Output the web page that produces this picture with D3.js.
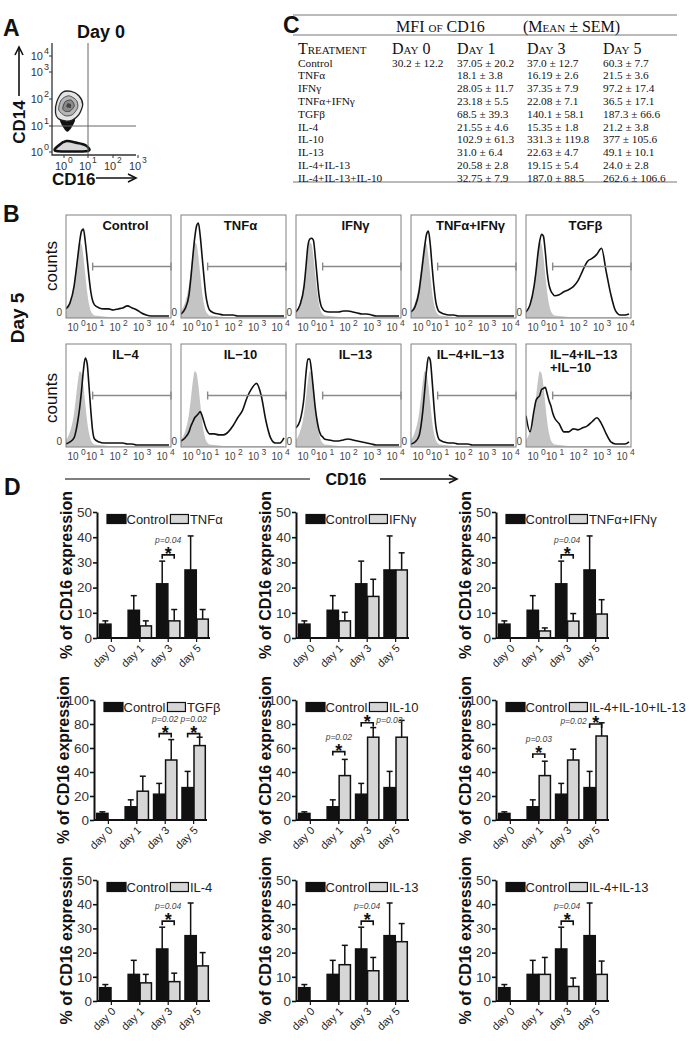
<!DOCTYPE html>
<html><head><meta charset="utf-8">
<script src="https://cdn.jsdelivr.net/npm/d3@7"></script>
<style>body{margin:0;background:#fff}svg{display:block}</style>
</head><body>
<svg id="c" width="689" height="1048"></svg>
<script>
// ---------------- DATA ----------------
// Panel C table
const tableDays = ["Day 0","Day 1","Day 3","Day 5"];
const tableTreatments = ["Control","TNFα","IFNγ","TNFα+IFNγ","TGFβ","IL-4","IL-10","IL-13","IL-4+IL-13","IL-4+IL-13+IL-10"];
const tableDay0 = ["30.2 ± 12.2","","","","","","","","",""];
const tableDay1 = ["37.05 ± 20.2","18.1 ± 3.8","28.05 ± 11.7","23.18 ± 5.5","68.5 ± 39.3","21.55 ± 4.6","102.9 ± 61.3","31.0 ± 6.4","20.58 ± 2.8","32.75 ± 7.9"];
const tableDay3 = ["37.0 ± 12.7","16.19 ± 2.6","37.35 ± 7.9","22.08 ± 7.1","140.1 ± 58.1","15.35 ± 1.8","331.3 ± 119.8","22.63 ± 4.7","19.15 ± 5.4","187.0 ± 88.5"];
const tableDay5 = ["60.3 ± 7.7","21.5 ± 3.6","97.2 ± 17.4","36.5 ± 17.1","187.3 ± 66.6","21.2 ± 3.8","377 ± 105.6","49.1 ± 10.1","24.0 ± 2.8","262.6 ± 106.6"];

// Panel A contour rings (log10 decades: [CD16, CD14])
const contourOuter = [[-0.32,1.5],[-0.27,1.9],[-0.05,2.25],[0.3,2.28],[0.62,2.12],[0.78,1.8],[0.62,1.42],[0.35,1.22],[0.1,1.18],[-0.22,1.28]];
const contourMid = [[-0.2,1.6],[-0.1,1.97],[0.2,2.12],[0.52,1.95],[0.57,1.68],[0.35,1.42],[0.05,1.38]];
const contourInner = [[-0.05,1.65],[0.05,1.9],[0.3,1.96],[0.43,1.75],[0.25,1.55],[0.05,1.55]];
const contourCore = [[0.1,1.7],[0.15,1.84],[0.29,1.8],[0.27,1.67]];
const contourTail = [[-0.15,1.27],[0.45,1.27],[0.32,0.95],[0.15,0.78],[0.0,0.9]];
const contourLow = [[-0.3,0.04],[-0.2,0.25],[0.1,0.42],[0.5,0.36],[0.9,0.26],[1.0,0.04]];

// Panel B histograms (x in log10 decades, counts in % of max)
const histX = [-0.5,-0.3,-0.1,0,0.1,0.2,0.3,0.4,0.5,0.6,0.7,0.8,0.9,1.0,1.2,1.4,1.6,1.8,2.0,2.2,2.4,2.6,2.8,3.0,3.2,3.4,3.6,3.8,4.0,4.2];
const histIsotype = [6,14,32,48,64,74,72,60,42,25,13,6,3,1.5,1,0.5,0,0,0,0,0,0,0,0,0,0,0,0,0,0];
const histControl = [8,14,30,45,60,75,85,87,75,58,40,25,16,12,9,8,8,7,8,9,11,9,7,4,2,1,1,1,1,1];
const histTNFa = [3,8,22,40,60,78,90,93,80,60,40,22,12,7,4,3,2,2,2,1,1,1,1,1,1,1,1,1,1,1];
const histIFNg = [5,12,30,50,70,77,78,76,60,40,22,12,8,6,5,5,5,6,6,5,4,3,3,2,1,1,1,1,1,1];
const histTNFaIFNg = [5,10,25,40,55,70,82,85,72,50,30,15,8,5,3,2,2,1,1,1,1,1,1,1,1,1,1,1,1,1];
const histTGFb = [5,12,30,45,62,75,82,80,65,45,32,26,23,21,22,25,27,30,36,46,55,58,62,68,45,22,6,2,2,3];
const histIL4 = [2,4,8,15,25,38,55,75,87,82,60,35,15,7,4,3,3,3,3,3,2,2,1,1,1,1,1,1,1,1];
const histIL10 = [5,8,14,20,24,28,30,32,34,30,24,18,14,12,12,11,11,14,20,28,35,48,57,62,50,25,8,3,3,8];
const histIL13 = [18,25,48,72,86,86,74,56,38,25,16,11,9,7,6,5,5,6,7,6,5,4,3,2,1,1,1,1,1,1];
const histIL4IL13 = [2,4,10,20,35,55,75,88,85,65,40,20,10,6,4,3,3,2,2,2,1,1,1,1,1,1,1,1,1,1];
const histIL4IL13IL10 = [30,14,35,45,48,50,56,57,58,52,45,40,33,28,22,14,14,17,16,18,20,24,28,22,12,4,2,2,2,4];
const histTitles = ["Control","TNFα","IFNγ","TNFα+IFNγ","TGFβ","IL−4","IL−10","IL−13","IL−4+IL−13",["IL−4+IL−13","+IL−10"]];
const histTickLabels = ["0","1","2","3","4"];

// Panel D bar charts
const barDays = ["day 0","day 1","day 3","day 5"];
const controlMean = [5.5, 11, 21.5, 27];
const controlSEM = [1.3, 5.8, 9, 13.5];
const treatNames = ["TNFα","IFNγ","TNFα+IFNγ","TGFβ","IL-10","IL-4+IL-10+IL-13","IL-4","IL-13","IL-4+IL-13"];
const treatMean = [
  [null, 4.8, 6.8, 7.5],
  [null, 6.8, 16.5, 27],
  [null, 2.8, 6.7, 9.5],
  [null, 24, 50, 62],
  [null, 37, 69, 69],
  [null, 37, 50, 70],
  [null, 7.5, 8, 14.5],
  [null, 15, 12.5, 24.5],
  [null, 11, 6, 11]];
const treatSEM = [
  [null, 2, 4.5, 3.8],
  [null, 3.4, 6.8, 6.8],
  [null, 1.2, 3, 5.7],
  [null, 12.5, 17, 7],
  [null, 13.5, 8, 14],
  [null, 12, 9, 11],
  [null, 3.5, 3.5, 5.5],
  [null, 8, 5.5, 7.5],
  [null, 7, 3.5, 5.5]];
const yMax = [50,50,50,100,100,100,50,50,50];
const sigMarks = [
  [{day:"day 3", level:33, p:"p=0.04"}],
  [],
  [{day:"day 3", level:33, p:"p=0.04"}],
  [{day:"day 3", level:72, p:"p=0.02"},{day:"day 5", level:72, p:"p=0.02"}],
  [{day:"day 1", level:57, p:"p=0.02"},{day:"day 3", level:81, p:"p=0.03", side:"right"}],
  [{day:"day 1", level:55, p:"p=0.03"},{day:"day 5", level:80, p:"p=0.02", side:"left"}],
  [{day:"day 3", level:33, p:"p=0.04"}],
  [{day:"day 3", level:33, p:"p=0.04"}],
  [{day:"day 3", level:33, p:"p=0.04"}]];

// ---------------- DRAWING ----------------
const svg = d3.select("#c");
const SANS = "'Liberation Sans', Arial, sans-serif";
const SERIF = "'Liberation Serif', 'DejaVu Serif', serif";

function txt(g, s, x, y, o={}){
  const t = g.append("text").attr("x",x).attr("y",y).text(s)
    .attr("font-family", o.family||SANS).attr("font-size", o.size||12)
    .attr("fill", o.fill||"#111");
  if(o.weight) t.attr("font-weight",o.weight);
  if(o.anchor) t.attr("text-anchor",o.anchor);
  if(o.style) t.attr("font-style",o.style);
  if(o.variant) t.style("font-variant",o.variant);
  if(o.rotate!=null) t.attr("transform",`rotate(${o.rotate},${x},${y})`);
  return t;
}
function arrowHead(g, x, y, dir){
  const p = dir==="up" ? `M${x-4},${y+8}L${x},${y}L${x+4},${y+8}` : `M${x-8},${y-4}L${x},${y}L${x-8},${y+4}`;
  g.append("path").attr("d",p).attr("fill","none").attr("stroke","#111").attr("stroke-width",1.6);
}

// Panel letters
txt(svg,"A",3,36,{size:23,weight:"bold"});
txt(svg,"C",283,33,{size:23,weight:"bold"});
txt(svg,"B",3,222,{size:23,weight:"bold"});
txt(svg,"D",4,495,{size:23,weight:"bold"});

// ---------- Panel A ----------
(function(){
  const g = svg.append("g");
  const ax = d3.scaleLinear().domain([-0.45,0,1,2,3]).range([52,64,88,113,138]);
  const ay = d3.scaleLinear().domain([-0.1,0,1,2,3,4]).range([155,152,126,99,72,56]);
  txt(g,"Day 0",101,38,{size:18,weight:"bold",anchor:"middle"});
  const line = d3.line().x(d=>ax(d[0])).y(d=>ay(d[1])).curve(d3.curveCardinalClosed.tension(0.2));
  g.append("path").attr("d",line(contourLow)).attr("fill","#d8d8d8").attr("stroke","#111").attr("stroke-width",2.6);
  g.append("path").attr("d",line(contourTail)).attr("fill","#111");
  g.append("path").attr("d",line(contourOuter)).attr("fill","#e4e4e4").attr("stroke","#222").attr("stroke-width",1.3);
  g.append("path").attr("d",line(contourMid)).attr("fill","#b5b5b5").attr("stroke","#333").attr("stroke-width",0.8);
  g.append("path").attr("d",line(contourInner)).attr("fill","#8a8a8a").attr("stroke","#333").attr("stroke-width",0.8);
  g.append("path").attr("d",line(contourCore)).attr("fill","#444");
  g.append("line").attr("x1",ax(1)).attr("x2",ax(1)).attr("y1",43).attr("y2",155).attr("stroke","#666").attr("stroke-width",1);
  g.append("line").attr("x1",52).attr("x2",136).attr("y1",ay(1)).attr("y2",ay(1)).attr("stroke","#666").attr("stroke-width",1);
  g.append("path").attr("d","M52,43V155H136").attr("fill","none").attr("stroke","#333").attr("stroke-width",1.3);
  [0,1,2,3,4].forEach(k=>{
    g.append("line").attr("x1",49).attr("x2",52).attr("y1",ay(k)).attr("y2",ay(k)).attr("stroke","#333");
    txt(g,"10",43,ay(k)+4,{size:11,anchor:"end",fill:"#333"});
    txt(g,histTickLabels[k],44,ay(k)-2,{size:9,fill:"#333"});
  });
  [0,1,2,3].forEach(k=>{
    g.append("line").attr("x1",ax(k)).attr("x2",ax(k)).attr("y1",155).attr("y2",158).attr("stroke","#333");
    txt(g,"10",ax(k)-3,170,{size:11,anchor:"middle",fill:"#333"});
    txt(g,histTickLabels[k],ax(k)+4,163,{size:8.5,fill:"#333"});
  });
  txt(g,"CD14",25,122,{size:17,weight:"bold",anchor:"middle",rotate:-90});
  g.append("line").attr("x1",19).attr("x2",19).attr("y1",96).attr("y2",47).attr("stroke","#111").attr("stroke-width",1.6);
  arrowHead(g,19,47,"up");
  txt(g,"CD16",52,185,{size:17,weight:"bold"});
  g.append("line").attr("x1",96).attr("x2",136).attr("y1",178).attr("y2",178).attr("stroke","#111").attr("stroke-width",1.6);
  arrowHead(g,136,178,"right");
})();

// ---------- Panel C (table) ----------
(function(){
  const g = svg.append("g");
  const L = 293, R = 677;
  [15,35,182].forEach(y=>g.append("line").attr("x1",L).attr("x2",R).attr("y1",y).attr("y2",y).attr("stroke","#777").attr("stroke-width",1));
  txt(g,"MFI of CD16",396,32,{family:SERIF,size:16,variant:"small-caps"});
  txt(g,"(Mean ± SEM)",523,32,{family:SERIF,size:16,variant:"small-caps"});
  const colX = [392,457,527,603];
  txt(g,"Treatment",298,54,{family:SERIF,size:16,variant:"small-caps"});
  tableDays.forEach((d,i)=>txt(g,d,colX[i],54,{family:SERIF,size:16,variant:"small-caps"}));
  const cols = [tableDay0,tableDay1,tableDay3,tableDay5];
  tableTreatments.forEach((t,r)=>{
    const y = 66.5 + r*12.8;
    txt(g,t,298,y,{family:SERIF,size:11.3});
    cols.forEach((c,i)=>{ if(c[r]) txt(g,c[r],colX[i],y,{family:SERIF,size:11.3}); });
  });
})();

// ---------- Panel B (histograms) ----------
(function(){
  const hists = [histControl,histTNFa,histIFNg,histTNFaIFNg,histTGFb,histIL4,histIL10,histIL13,histIL4IL13,histIL4IL13IL10];
  const W = 105, H = 103;
  const hx = d3.scaleLinear().domain([-0.5,0,1,2,3,4,4.3]).range([0,10,28.5,52,75.5,99,W]);
  const hy = d3.scaleLinear().domain([0,100]).range([H-1,1]);
  const area = d3.area().x((d,i)=>hx(histX[i])).y0(H).y1(d=>hy(d)).curve(d3.curveMonotoneX);
  const line = d3.line().x((d,i)=>hx(histX[i])).y(d=>hy(d)).curve(d3.curveMonotoneX);
  const rowsTop = [215,344];
  const defs = svg.append("defs");
  defs.append("clipPath").attr("id","hclip").append("rect").attr("width",W).attr("height",H);
  hists.forEach((h,i)=>{
    const r = Math.floor(i/5), c = i%5;
    const bx = 66 + c*115, by = rowsTop[r];
    const g = svg.append("g").attr("transform",`translate(${bx},${by})`);
    const inner = g.append("g").attr("clip-path","url(#hclip)");
    inner.append("path").attr("d",area(histIsotype)).attr("fill","#c4c4c4");
    inner.append("path").attr("d",line(h)).attr("fill","none").attr("stroke","#111").attr("stroke-width",1.6);
    g.append("rect").attr("width",W).attr("height",H).attr("fill","none").attr("stroke","#808080").attr("stroke-width",1);
    const gy = H*0.5, gx1 = hx(0.9), gx2 = W;
    g.append("line").attr("x1",gx1).attr("x2",gx2).attr("y1",gy).attr("y2",gy).attr("stroke","#8a8a8a").attr("stroke-width",1.4);
    g.append("line").attr("x1",gx1).attr("x2",gx1).attr("y1",gy-4).attr("y2",gy+4).attr("stroke","#8a8a8a").attr("stroke-width",1.4);
    g.append("line").attr("x1",gx2).attr("x2",gx2).attr("y1",gy-4).attr("y2",gy+4).attr("stroke","#8a8a8a").attr("stroke-width",1.4);
    const t = histTitles[i];
    if(Array.isArray(t)){
      txt(g,t[0],24,15,{size:13,weight:"bold"});
      txt(g,t[1],24,28,{size:13,weight:"bold"});
    } else {
      txt(g,t,W/2+7,15,{size:13,weight:"bold",anchor:"middle"});
    }
    txt(g,"0",-4,H-2,{size:10,anchor:"end",fill:"#444"});
    [0,1,2,3,4].forEach(k=>{
      txt(g,"10",hx(k)-3,H+13,{size:10,anchor:"middle",fill:"#444"});
      txt(g,histTickLabels[k],hx(k)+5,H+8,{size:8.5,fill:"#444"});
    });
  });
  txt(svg,"counts",57,266,{size:17,anchor:"middle",rotate:-90});
  txt(svg,"counts",57,398,{size:17,anchor:"middle",rotate:-90});
  txt(svg,"Day 5",24,318,{size:19,weight:"bold",anchor:"middle",rotate:-90});
  svg.append("line").attr("x1",65).attr("x2",310).attr("y1",479).attr("y2",479).attr("stroke","#555").attr("stroke-width",1.5);
  txt(svg,"CD16",346,485,{size:16,weight:"bold",anchor:"middle"});
  svg.append("line").attr("x1",380).attr("x2",457).attr("y1",479).attr("y2",479).attr("stroke","#111").attr("stroke-width",1.5);
  arrowHead(svg,457,479,"right");
})();

// ---------- Panel D (bar charts) ----------
(function(){
  const colAxis = [[97,296,496],[94,296,496],[97,296,496]];
  const rowY = [[638,512],[820,700],[1001,880]];
  treatNames.forEach((name,k)=>{
    const r = Math.floor(k/3), c = k%3;
    const ax0 = colAxis[r][c], y0 = rowY[r][0], yT = rowY[r][1];
    const max = yMax[k];
    const g = svg.append("g");
    const y = d3.scaleLinear().domain([0,max]).range([y0,yT]);
    const xb = d3.scaleBand().domain(barDays).range([ax0+1, ax0+113]).paddingInner(0.18).paddingOuter(0.06);
    const xs = d3.scaleBand().domain(["ctrl","trt"]).range([0,xb.bandwidth()]).paddingInner(0.06);
    function bar(x, w, m, s, fill){
      const xc = x + w/2;
      g.append("line").attr("x1",xc).attr("x2",xc).attr("y1",y(m)).attr("y2",y(m+s)).attr("stroke","#111").attr("stroke-width",1.5);
      g.append("line").attr("x1",xc-3).attr("x2",xc+3).attr("y1",y(m+s)).attr("y2",y(m+s)).attr("stroke","#111").attr("stroke-width",1.5);
      g.append("rect").attr("x",x).attr("y",y(m)).attr("width",w).attr("height",y0-y(m)).attr("fill",fill).attr("stroke","#111").attr("stroke-width",1.5);
    }
    barDays.forEach((d,i)=>{
      bar(xb(d)+xs("ctrl"), xs.bandwidth(), controlMean[i], controlSEM[i], "#111");
      if(treatMean[k][i]!=null) bar(xb(d)+xs("trt"), xs.bandwidth(), treatMean[k][i], treatSEM[k][i], "#d6d6d6");
    });
    const yAxis = g.append("g").attr("transform",`translate(${ax0},0)`)
      .call(d3.axisLeft(y).tickValues(d3.range(0,max+1,max/5)).tickSize(4).tickPadding(1).tickSizeOuter(0));
    yAxis.select(".domain").attr("stroke","#111").attr("stroke-width",2);
    yAxis.selectAll(".tick line").attr("stroke","#111").attr("stroke-width",1.6);
    yAxis.selectAll(".tick text").attr("font-family",SANS).attr("font-size",13.5).attr("fill","#333");
    const xAxis = g.append("g").attr("transform",`translate(0,${y0})`)
      .call(d3.axisBottom(xb).tickSize(4).tickSizeOuter(0).tickFormat(""));
    xAxis.select(".domain").attr("d",`M${ax0},0H${ax0+113}`).attr("stroke","#111").attr("stroke-width",2);
    xAxis.selectAll(".tick line").attr("stroke","#111").attr("stroke-width",1.2);
    barDays.forEach(d=>{
      const xc = xb(d)+xb.bandwidth()/2+5;
      txt(g,d,xc,y0+11,{size:11,anchor:"end",fill:"#222",rotate:-45});
    });
    txt(g,"% of CD16 expression",ax0-25,(y0+yT)/2,{size:16,weight:"bold",anchor:"middle",rotate:-90});
    const lx = ax0 + 10, ly = yT + 7;
    g.append("rect").attr("x",lx).attr("y",ly-4.5).attr("width",19).attr("height",9).attr("fill","#111").attr("stroke","#111").attr("stroke-width",1.2);
    const t1 = txt(g,"Control",lx+19.5,ly+5,{size:13,fill:"#222"});
    const w1 = t1.node().getComputedTextLength();
    const gx = lx+19.5+w1+2;
    g.append("rect").attr("x",gx).attr("y",ly-4.5).attr("width",18).attr("height",9).attr("fill","#d6d6d6").attr("stroke","#111").attr("stroke-width",1.2);
    txt(g,name,gx+19.5,ly+5,{size:13,fill:"#222"});
    sigMarks[k].forEach(s=>{
      const x1 = xb(s.day)+xs("ctrl")+xs.bandwidth()/2, x2 = xb(s.day)+xs("trt")+xs.bandwidth()/2;
      const yy = y(s.level), xm = (x1+x2)/2;
      g.append("path").attr("d",`M${x1},${yy+4}V${yy}H${x2}V${yy+4}`).attr("fill","none").attr("stroke","#111").attr("stroke-width",1.6);
      txt(g,"*",xm,yy+5,{size:18,weight:"bold",anchor:"middle"});
      if(s.side==="right") txt(g,s.p,x2+3,yy,{size:8.5,style:"italic",fill:"#444"});
      else if(s.side==="left") txt(g,s.p,x1-3,yy,{size:8.5,style:"italic",fill:"#444",anchor:"end"});
      else txt(g,s.p,xm,yy-12,{size:8.5,style:"italic",fill:"#444",anchor:"middle"});
    });
  });
})();
</script>
</body></html>
